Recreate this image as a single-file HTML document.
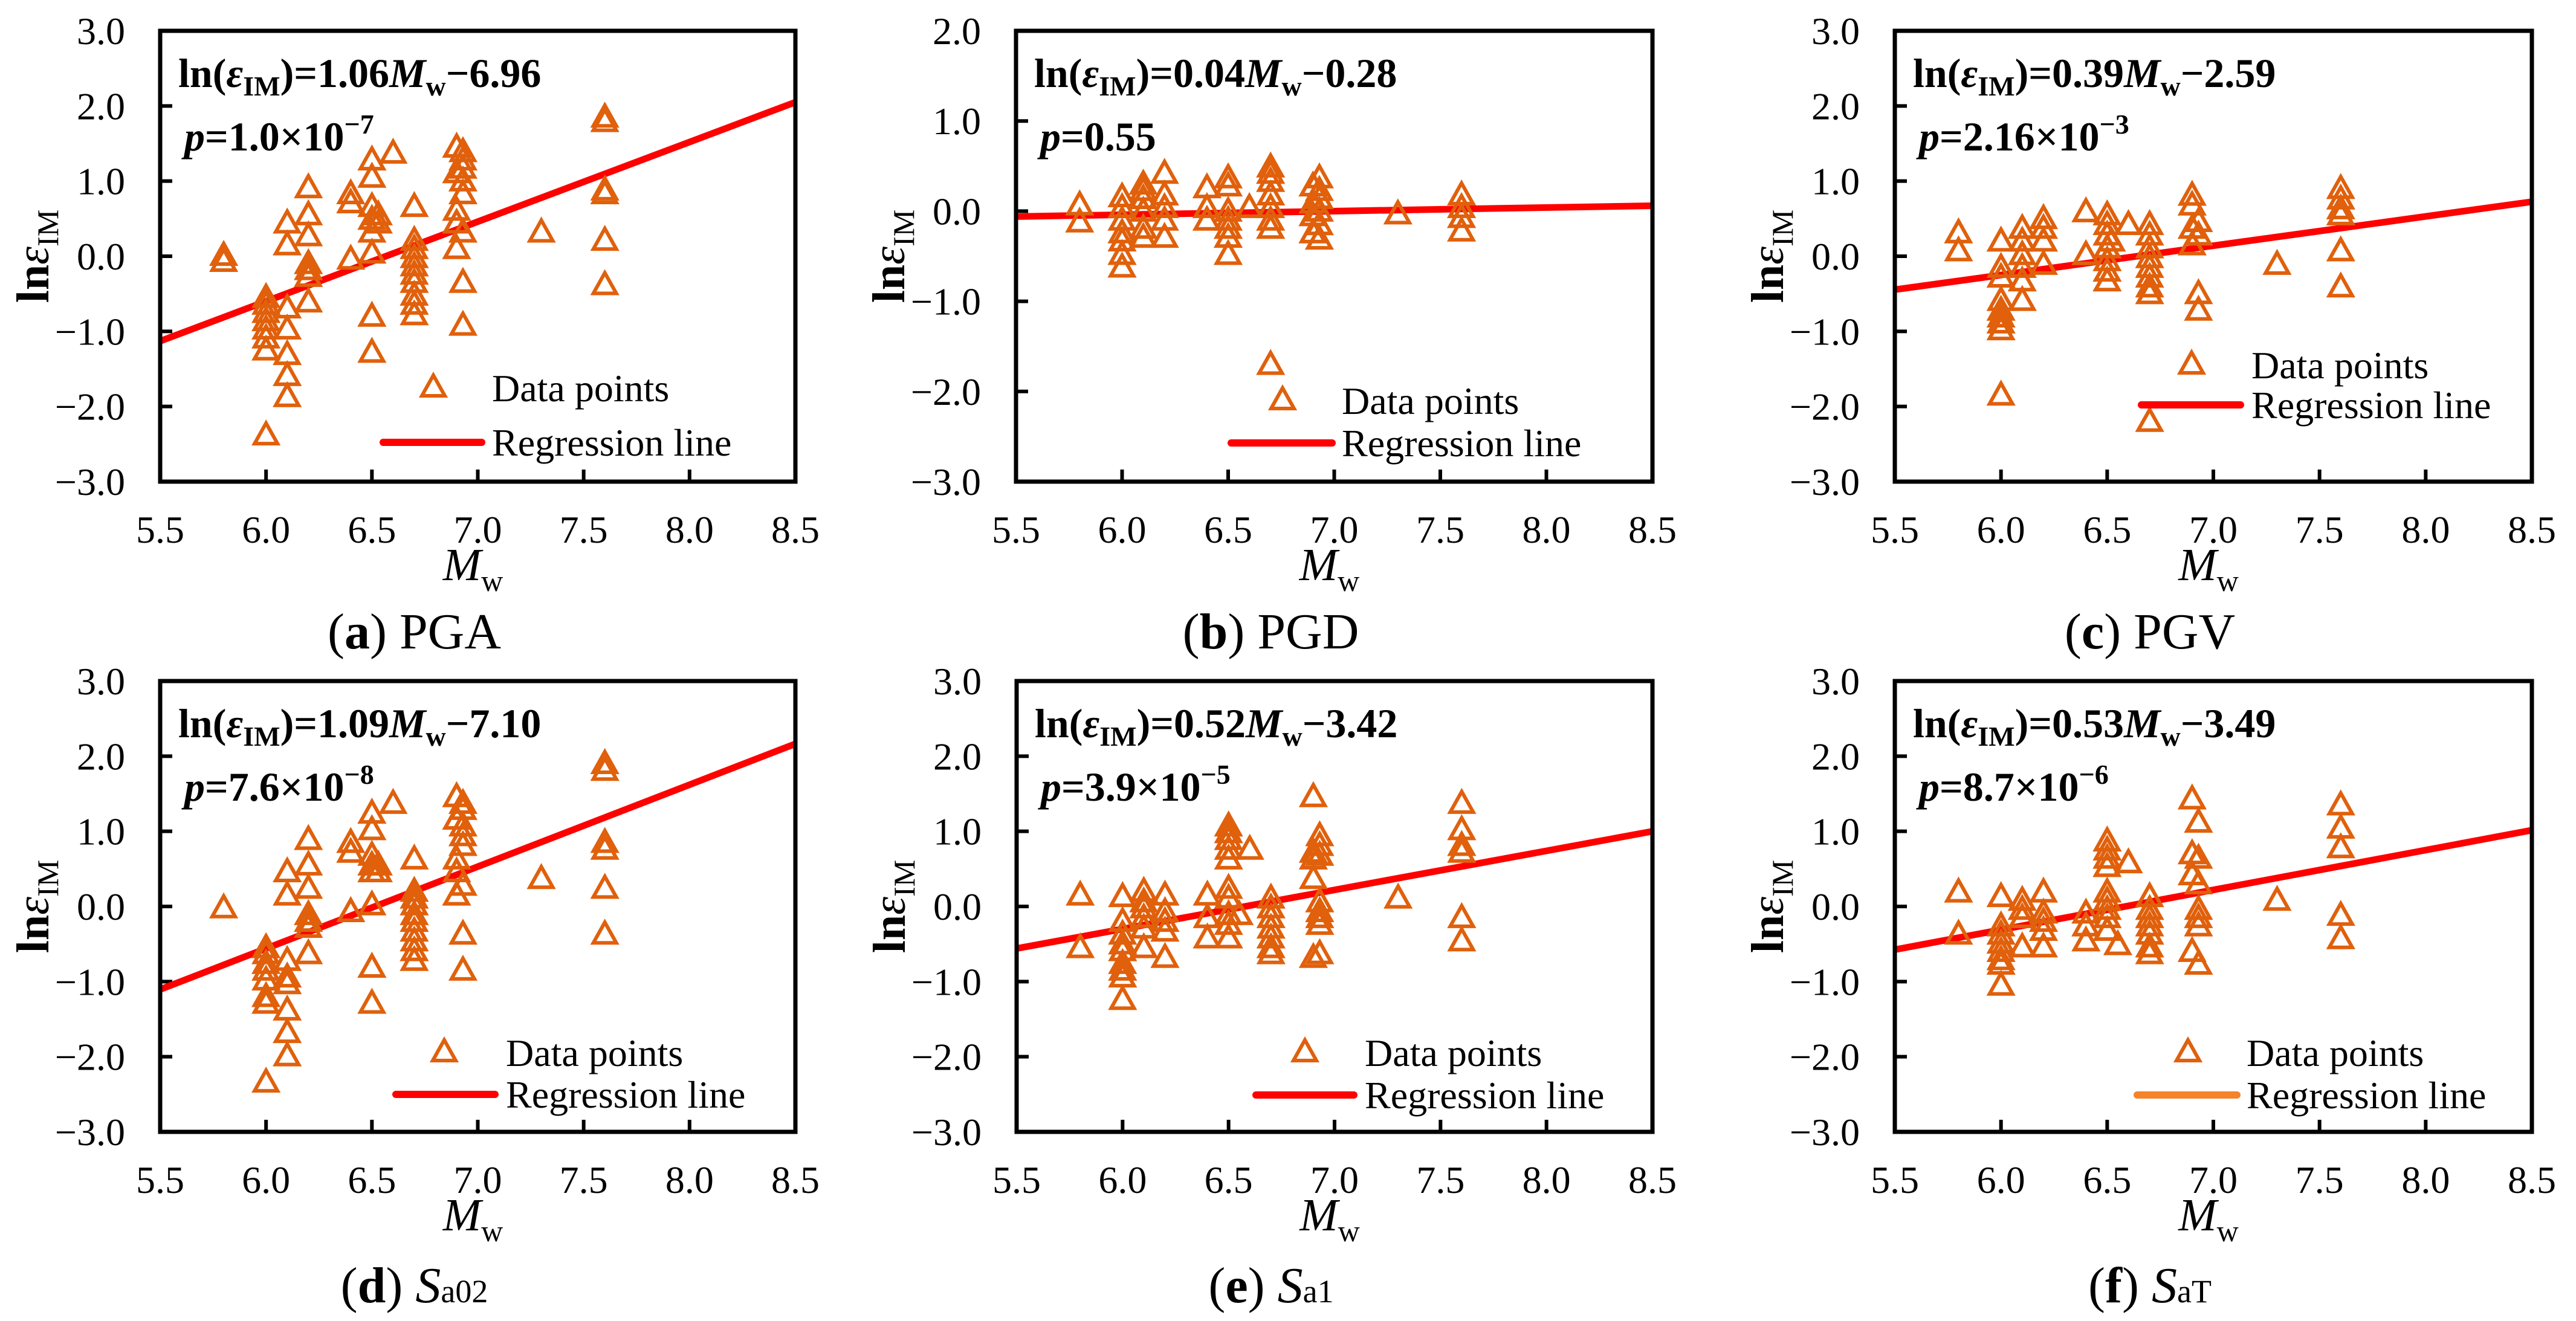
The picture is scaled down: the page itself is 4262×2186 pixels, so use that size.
<!DOCTYPE html>
<html><head><meta charset="utf-8">
<style>
html,body{margin:0;padding:0;background:#fff;}
svg, svg text{font-family:"Liberation Serif","DejaVu Serif Condensed","DejaVu Serif","Times New Roman",serif;}
svg{display:block;}
</style></head>
<body>
<svg id="fig" xmlns="http://www.w3.org/2000/svg" width="4262" height="2186" viewBox="0 0 4262 2186">
<rect x="0" y="0" width="4262" height="2186" fill="#fff"/>
</svg>
<script>
// ---------- DATA ----------
const xTicks = [5.5,6.0,6.5,7.0,7.5,8.0,8.5];
const pgaMw   = [5.8,6.0,6.1,6.2,6.4,6.5,6.53,6.6,6.7,6.9,6.93,7.3,7.6];
const pgaVals = [[0,-0.08],[-0.56,-0.65,-0.76,-0.87,-0.98,-1.1,-1.26,-2.39],[0.43,0.14,-0.7,-0.98,-1.32,-1.6,-1.88],[0.9,0.54,0.26,-0.11,-0.19,-0.28,-0.62],[0.82,0.7,-0.05],[1.27,1.04,0.65,0.48,0.31,0.03,-0.81,-1.29],[0.54,0.43],[1.36],[0.65,0.2,0.09,-0.03,-0.14,-0.25,-0.36,-0.53,-0.65,-0.79],[1.44,1.1,0.6,0.43,0.09],[1.38,1.27,1.16,0.99,0.82,0.31,-0.36,-0.93],[0.31],[1.84,1.78,0.87,0.82,0.2,-0.39]];
const pgaReg  = [1.06,-6.96];

const pgdMw   = [5.8,6.0,6.1,6.2,6.4,6.5,6.6,6.7,6.9,6.93,7.3,7.6];
const pgdVals = [[0.06,-0.13],[0.15,0.03,-0.11,-0.25,-0.34,-0.49,-0.63],[0.29,0.22,0.13,-0.01,-0.2,-0.3],[0.41,0.17,0.03,-0.11,-0.3],[0.25,0.03,-0.11],[0.36,0.27,-0.01,-0.11,-0.2,-0.3,-0.49],[0.03],[0.48,0.41,0.32,0.17,0.03,-0.11,-0.2,-1.71],[0.27,0.08,-0.06,-0.25],[0.36,0.22,0.13,-0.01,-0.16,-0.32],[-0.04],[0.17,0.03,-0.08,-0.23]];
const pgdReg  = [0.04,-0.28];

const pgvMw   = [5.8,6.0,6.1,6.2,6.4,6.5,6.52,6.6,6.7,6.9,6.93,7.3,7.6];
const pgvVals = [[0.3,0.06],[0.19,-0.16,-0.29,-0.6,-0.73,-0.82,-0.9,-0.99,-1.86],[0.36,0.19,0.01,-0.16,-0.34,-0.6],[0.49,0.36,0.19,-0.12],[0.58,0.01],[0.54,0.41,0.27,0.1,-0.07,-0.21,-0.34],[0.19],[0.41],[0.41,0.27,0.1,-0.03,-0.16,-0.29,-0.42,-0.51,-2.21],[0.8,0.67,0.36,0.14],[0.45,0.27,-0.51,-0.73],[-0.12],[0.89,0.75,0.62,0.54,0.06,-0.42]];
const pgvReg  = [0.39,-2.59];

const sa02Mw   = [5.8,6.0,6.1,6.2,6.4,6.5,6.53,6.6,6.7,6.9,6.93,7.3,7.6];
const sa02Vals = [[-0.03],[-0.56,-0.64,-0.77,-0.86,-0.99,-1.21,-1.3,-2.35],[0.45,0.14,-0.73,-0.95,-1.04,-1.39,-1.69,-2.0],[0.88,0.54,0.23,-0.12,-0.21,-0.29,-0.64],[0.84,0.71,-0.08],[1.23,1.01,0.67,0.54,0.45,0.01,-0.82,-1.3],[0.54,0.45],[1.36],[0.62,0.19,0.1,0.01,-0.12,-0.21,-0.34,-0.47,-0.6,-0.73],[1.45,1.15,0.62,0.45,0.14],[1.36,1.28,1.06,0.93,0.8,0.27,-0.38,-0.86],[0.36],[1.89,1.8,0.84,0.75,0.23,-0.38]];
const sa02Reg  = [1.09,-7.10];

const sa1Mw   = [5.8,6.0,6.1,6.2,6.4,6.5,6.55,6.6,6.7,6.9,6.93,7.3,7.6];
const sa1Vals = [[0.14,-0.56],[0.12,-0.21,-0.38,-0.51,-0.6,-0.77,-0.86,-0.95,-1.25],[0.19,0.05,-0.03,-0.16,-0.3,-0.56],[0.14,-0.08,-0.21,-0.34,-0.69],[0.14,-0.16,-0.43],[1.06,0.97,0.88,0.75,0.62,0.23,0.1,-0.12,-0.25,-0.43],[-0.12],[0.75],[0.1,-0.03,-0.16,-0.3,-0.43,-0.56,-0.64],[1.45,0.71,0.62,0.36,-0.69],[0.93,0.8,0.67,0.05,-0.08,-0.16,-0.25,-0.64],[0.1],[1.36,1.01,0.8,0.71,-0.16,-0.47]];
const sa1Reg  = [0.52,-3.42];

const satMw   = [5.8,6.0,6.1,6.2,6.4,6.5,6.55,6.6,6.7,6.9,6.93,7.3,7.6];
const satVals = [[0.18,-0.38],[0.12,-0.27,-0.38,-0.5,-0.61,-0.72,-0.78,-1.06],[0.07,-0.05,-0.16,-0.55],[0.18,-0.1,-0.21,-0.33,-0.55],[-0.1,-0.27,-0.47],[0.86,0.74,0.63,0.52,0.18,0.07,-0.05,-0.16,-0.33],[-0.52],[0.57],[0.12,-0.05,-0.16,-0.27,-0.38,-0.55,-0.64],[1.42,0.69,0.41,-0.61],[1.11,0.63,0.29,-0.05,-0.16,-0.27,-0.78],[0.07],[1.34,1.03,0.77,-0.13,-0.44]];
const satReg  = [0.53,-3.49];

// ---------- LAYOUT ----------
const NS = "http://www.w3.org/2000/svg";
const svg = document.getElementById('fig');
const ORANGE = '#e0600c';
function mk(tag, attrs, parent){
  const e = document.createElementNS(NS, tag);
  for (const k in attrs) e.setAttribute(k, attrs[k]);
  parent.appendChild(e);
  return e;
}
const panels = [
 {id:'pga', left:265, right:1316, top:51, bottom:797, ymin:-3, ymax:3, mw:pgaMw, vals:pgaVals, reg:pgaReg,
  eqA:'1.06', eqB:'6.96', p:'1.0', pe:'−7', lg:{m:452, md:-155, t:549, l0:369, l1:532, ld:-65}, lc:'#ff0000',
  cap:'<tspan font-weight="bold">a</tspan>) PGA'},
 {id:'pgd', left:1681, right:2734, top:51, bottom:797, ymin:-3, ymax:2, mw:pgdMw, vals:pgdVals, reg:pgdReg,
  eqA:'0.04', eqB:'0.28', p:'0.55', pe:null, lg:{m:441, md:-134, t:539, l0:356, l1:523, ld:-64}, lc:'#ff0000',
  cap:'<tspan font-weight="bold">b</tspan>) PGD'},
 {id:'pgv', left:3135, right:4189, top:51, bottom:797, ymin:-3, ymax:3, mw:pgvMw, vals:pgvVals, reg:pgvReg,
  eqA:'0.39', eqB:'2.59', p:'2.16', pe:'−3', lg:{m:491, md:-193, t:590, l0:408, l1:572, ld:-127}, lc:'#ff0000',
  cap:'<tspan font-weight="bold">c</tspan>) PGV'},
 {id:'sa02', left:265, right:1316, top:1127, bottom:1873, ymin:-3, ymax:3, mw:sa02Mw, vals:sa02Vals, reg:sa02Reg,
  eqA:'1.09', eqB:'7.10', p:'7.6', pe:'−8', lg:{m:470, md:-131, t:572, l0:390, l1:554, ld:-62}, lc:'#ff0000',
  cap:'<tspan font-weight="bold">d</tspan>) <tspan font-style="italic">S</tspan><tspan font-size="54">a02</tspan>'},
 {id:'sa1', left:1682, right:2734, top:1127, bottom:1873, ymin:-3, ymax:3, mw:sa1Mw, vals:sa1Vals, reg:sa1Reg,
  eqA:'0.52', eqB:'3.42', p:'3.9', pe:'−5', lg:{m:477, md:-131, t:576, l0:396, l1:558, ld:-61}, lc:'#ff0000',
  cap:'<tspan font-weight="bold">e</tspan>) <tspan font-style="italic">S</tspan><tspan font-size="54">a1</tspan>'},
 {id:'sat', left:3135, right:4189, top:1127, bottom:1873, ymin:-3, ymax:3, mw:satMw, vals:satVals, reg:satReg,
  eqA:'0.53', eqB:'3.49', p:'8.7', pe:'−6', lg:{m:485, md:-131, t:582, l0:401, l1:566, ld:-61}, lc:'#f5832a',
  cap:'<tspan font-weight="bold">f</tspan>) <tspan font-style="italic">S</tspan><tspan font-size="54">aT</tspan>'}
];

function tri(parent, x, y){
  const pts = [[x, y-21],[x-19, y+13],[x+19, y+13]].map(p=>p.join(',')).join(' ');
  return mk('polygon', {points:pts, fill:'none', stroke:ORANGE, 'stroke-width':6, 'stroke-linejoin':'miter'}, parent);
}

panels.forEach(p => {
  const g = mk('g', {}, svg);
  
  
  const xs = m => p.left + (m - 5.5) / 3 * (p.right - p.left);
  const ys = v => p.bottom - (v - p.ymin) / (p.ymax - p.ymin) * (p.bottom - p.top);

  const clip = mk('clipPath', {id:'clip-' + p.id}, g);
  mk('rect', {x:p.left, y:p.top, width:p.right-p.left, height:p.bottom-p.top}, clip);

  xTicks.forEach(t => {
    if (t > 5.5 && t < 8.5) {
      const tk = mk('line', {x1:xs(t), x2:xs(t), y1:p.bottom, y2:p.bottom-20, stroke:'#000', 'stroke-width':6}, g);
      
      
    }
    const lb = mk('text', {x:xs(t), y:p.bottom+101, 'text-anchor':'middle', 'font-size':64}, g);
    lb.textContent = t.toFixed(1);
    
    
  });
  for (let v = p.ymin; v <= p.ymax; v++) {
    if (v > p.ymin && v < p.ymax) {
      const tk = mk('line', {x1:p.left, x2:p.left+20, y1:ys(v), y2:ys(v), stroke:'#000', 'stroke-width':6}, g);
      
      
    }
    const lb = mk('text', {x:p.left-58, y:ys(v)+22, 'text-anchor':'end', 'font-size':64}, g);
    lb.textContent = (v < 0 ? '−' : '') + Math.abs(v).toFixed(1);
    
    
  }

  const rl = mk('line', {x1:xs(5.5), y1:ys(p.reg[0]*5.5+p.reg[1]), x2:xs(8.5), y2:ys(p.reg[0]*8.5+p.reg[1]),
    stroke:'#ff0000', 'stroke-width':11, 'clip-path':'url(#clip-' + p.id + ')'}, g);
  
  

  p.mw.forEach((m, i) => {
    p.vals[i].forEach(v => {
      const t = tri(g, xs(m), ys(v));
      
      
    });
  });

  const fr = mk('rect', {x:p.left, y:p.top, width:p.right-p.left, height:p.bottom-p.top, fill:'none', stroke:'#000', 'stroke-width':7}, g);
  
  

  const eq = mk('text', {x:p.left+30, y:p.top+93, 'font-size':68, 'font-weight':'bold'}, g);
  eq.innerHTML = 'ln(<tspan font-style="italic">ε</tspan><tspan font-size="46" dy="14">IM</tspan><tspan dy="-14">)=' + p.eqA + '</tspan><tspan font-style="italic">M</tspan><tspan font-size="46" dy="14">w</tspan><tspan dy="-14">−' + p.eqB + '</tspan>';
  
  
  const pt = mk('text', {x:p.left+40, y:p.top+198, 'font-size':68, 'font-weight':'bold'}, g);
  pt.innerHTML = '<tspan font-style="italic">p</tspan>=' + p.p + (p.pe ? '×10<tspan font-size="46" dy="-28">' + p.pe + '</tspan>' : '');
  
  

  const lm = tri(g, p.left + p.lg.m, p.bottom + p.lg.md);
  
  
  const lt1 = mk('text', {x:p.left + p.lg.t, y:p.bottom + p.lg.md + 22, 'font-size':64}, g);
  lt1.textContent = 'Data points';
  
  
  const ll = mk('line', {x1:p.left + p.lg.l0, x2:p.left + p.lg.l1, y1:p.bottom + p.lg.ld, y2:p.bottom + p.lg.ld, stroke:p.lc, 'stroke-width':12, 'stroke-linecap':'round'}, g);
  
  
  const lt2 = mk('text', {x:p.left + p.lg.t, y:p.bottom + p.lg.ld + 22, 'font-size':64}, g);
  lt2.textContent = 'Regression line';
  
  

  const cx = (p.left + p.right) / 2;
  const xt = mk('text', {x:cx-8, y:p.bottom+163, 'text-anchor':'middle', 'font-size':76}, g);
  xt.innerHTML = '<tspan font-style="italic">M</tspan><tspan font-size="50" dy="18">w</tspan>';
  
  
  const cy = (p.top + p.bottom) / 2;
  const yt = mk('text', {x:0, y:0, 'text-anchor':'middle', 'font-size':76, transform:'translate(' + (p.left-185) + ',' + cy + ') rotate(-90)'}, g);
  yt.innerHTML = '<tspan font-weight="bold">ln</tspan><tspan font-style="italic">ε</tspan><tspan font-size="50" dy="16">IM</tspan>';
  
  

  const cp = mk('text', {x:cx-105, y:p.bottom + (p.top < 500 ? 276 : 282), 'text-anchor':'middle', 'font-size':84}, g);
  cp.innerHTML = '(' + p.cap;
  
  
});
</script>
</body></html>
